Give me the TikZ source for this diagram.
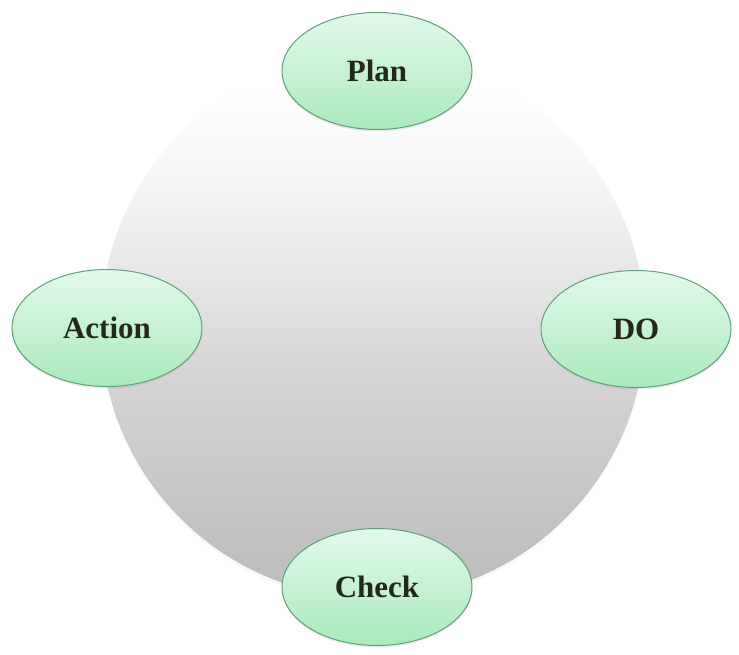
\documentclass[tikz,border=0pt]{standalone}
\usepackage{fontspec}
\setmainfont{Liberation Serif}
\usetikzlibrary{shapes.geometric,shadows}
\definecolor{ringa}{RGB}{190,190,190}
\definecolor{ringb}{RGB}{212,212,212}
\definecolor{ringc}{RGB}{231,231,231}
\definecolor{ringd}{RGB}{248,248,248}
\definecolor{elltop}{RGB}{226,249,235}
\definecolor{ellbot}{RGB}{170,234,188}
\definecolor{ellrim}{RGB}{96,160,124}
\definecolor{txt}{RGB}{36,40,28}
\pgfdeclareverticalshading{ringshade}{100bp}{color(0bp)=(ringa); color(28bp)=(ringa); color(45bp)=(ringb); color(55bp)=(ringc); color(65bp)=(ringd); color(72bp)=(white); color(100bp)=(white)}
\tikzset{
  ringshape/.style={circle, minimum size=546pt, inner sep=0pt,
    shading=ringshade, draw=white, line width=1.2pt,
    drop shadow={shadow xshift=0pt, shadow yshift=-1.5pt, opacity=0.12}},
  phase/.style={ellipse, minimum width=190pt, minimum height=117pt, inner sep=0pt,
    top color=elltop, bottom color=ellbot, draw=ellrim, line width=1pt,
    font=\fontsize{31}{36}\selectfont\bfseries, text=txt,
    drop shadow={shadow xshift=0pt, shadow yshift=-2pt, opacity=0.15}}
}
\begin{document}
\begin{tikzpicture}[x=1pt,y=-1pt]
\useasboundingbox (0,0) rectangle (739,654);
\fill[white] (0,0) rectangle (739,654);
\node[ringshape] (ring) at (373,326) {};
\node[phase] (plan) at (377,71) {Plan};
\node[phase] (action) at (107,328) {Action};
\node[phase] (do) at (636,329) {DO};
\node[phase] (check) at (377,587) {Check};
\end{tikzpicture}
\end{document}
